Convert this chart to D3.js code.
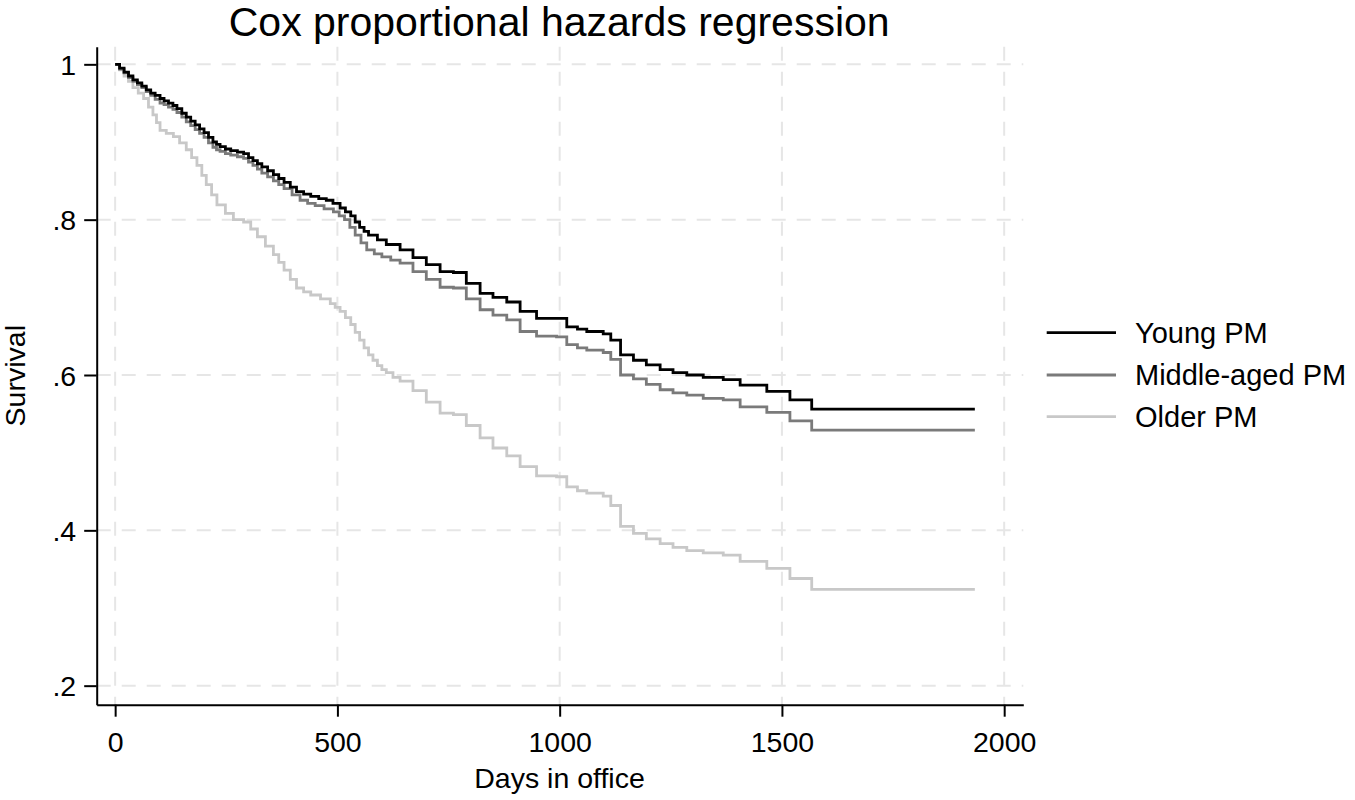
<!DOCTYPE html>
<html>
<head>
<meta charset="utf-8">
<script src="https://cdn.jsdelivr.net/npm/d3@7"></script>
<style>
  html, body { margin: 0; padding: 0; background: #fff; }
  svg { display: block; font-family: "Liberation Sans", Arial, sans-serif; }
</style>
</head>
<body>
<svg id="chart" width="1355" height="800"></svg>
<script>
// ---- data ----
const seriesNames = ["Young PM", "Middle-aged PM", "Older PM"];

const youngDays = [0,10,20,30,40,50,60,70,80,90,101,110,120,130,139,150,160,170,180,190,200,210,220,228,236,248,260,275,289,300,310,320,330,343,356,368,380,394,408,424,440,458,475,490,506,518,530,540,550,560,570,590,610,641,670,700,731,761,790,821,850,881,911,948,993,1016,1040,1061,1098,1115,1137,1166,1195,1226,1255,1286,1323,1368,1406,1466,1518,1567,1934];
const youngSurv = [1.000,0.995,0.990,0.985,0.980,0.976,0.972,0.967,0.963,0.960,0.956,0.953,0.950,0.947,0.943,0.937,0.932,0.927,0.922,0.917,0.912,0.906,0.900,0.897,0.894,0.891,0.889,0.887,0.885,0.880,0.876,0.872,0.868,0.863,0.858,0.853,0.848,0.842,0.836,0.833,0.830,0.827,0.825,0.821,0.815,0.810,0.805,0.797,0.790,0.785,0.780,0.774,0.768,0.761,0.751,0.742,0.733,0.732,0.718,0.705,0.700,0.694,0.682,0.673,0.673,0.662,0.659,0.656,0.653,0.645,0.626,0.619,0.613,0.607,0.603,0.600,0.597,0.594,0.587,0.579,0.568,0.556,0.556];

const middleDays = [0,10,20,30,40,50,60,70,80,90,101,110,120,130,139,150,160,170,180,190,200,210,220,228,236,248,260,275,289,300,310,320,330,343,356,368,380,398,416,433,450,470,491,504,516,528,540,553,566,583,600,620,641,670,700,731,761,790,821,850,881,911,948,993,1016,1040,1061,1098,1115,1137,1166,1195,1226,1255,1286,1323,1368,1406,1466,1518,1567,1934];
const middleSurv = [1.000,0.994,0.989,0.983,0.978,0.974,0.970,0.965,0.960,0.955,0.950,0.948,0.945,0.942,0.938,0.932,0.926,0.921,0.916,0.911,0.906,0.899,0.893,0.890,0.888,0.885,0.883,0.881,0.879,0.874,0.870,0.865,0.860,0.855,0.850,0.845,0.840,0.832,0.825,0.821,0.818,0.814,0.810,0.805,0.800,0.790,0.780,0.770,0.761,0.756,0.752,0.748,0.744,0.733,0.723,0.713,0.712,0.698,0.684,0.677,0.671,0.656,0.650,0.649,0.639,0.635,0.632,0.629,0.620,0.600,0.595,0.588,0.581,0.577,0.574,0.570,0.568,0.559,0.552,0.541,0.529,0.529];

const olderDays = [0,10,20,30,40,52,64,75,85,93,101,115,131,145,160,172,184,195,205,217,229,248,266,289,305,320,338,356,368,380,394,408,424,440,462,484,495,506,518,530,540,550,560,570,580,590,600,610,625,641,670,700,731,761,790,821,850,881,911,948,993,1016,1040,1061,1098,1115,1137,1166,1195,1226,1255,1286,1323,1368,1406,1466,1518,1567,1934];
const olderSurv = [1.000,0.993,0.985,0.978,0.970,0.963,0.956,0.945,0.935,0.925,0.915,0.911,0.907,0.899,0.890,0.880,0.870,0.857,0.845,0.832,0.819,0.808,0.800,0.797,0.788,0.778,0.766,0.755,0.745,0.735,0.723,0.712,0.707,0.703,0.698,0.692,0.687,0.682,0.674,0.665,0.655,0.645,0.635,0.626,0.619,0.612,0.607,0.603,0.597,0.592,0.580,0.565,0.551,0.549,0.535,0.519,0.506,0.496,0.482,0.470,0.469,0.456,0.451,0.448,0.444,0.432,0.405,0.396,0.389,0.383,0.378,0.374,0.371,0.368,0.360,0.351,0.338,0.324,0.324];

const xTicks = [0, 500, 1000, 1500, 2000];
const yTicks = [0.2, 0.4, 0.6, 0.8, 1.0];
const yTickLabels = [".2", ".4", ".6", ".8", "1"];

const titleText = "Cox proportional hazards regression";
const xLabel = "Days in office";
const yLabel = "Survival";

// ---- layout / style ----
const colors = ["#000000", "#7a7a7a", "#c8c8c8"];
const plot = { left: 96.7, right: 1023.3, top: 46.7, bottom: 704.7 };
const fontAxis = 28.5;
const fontFam = '"Liberation Sans", Arial, sans-serif';

const svg = d3.select("#chart");

const x = d3.scaleLinear().domain([-41.5, 2043]).range([plot.left, plot.right]);
const y = d3.scaleLinear().domain([0.1755, 1.0227]).range([plot.bottom, plot.top]);

// grid
const grid = svg.append("g").attr("class", "grid");
grid.selectAll("line.h").data(yTicks).enter().append("line")
  .attr("x1", plot.left).attr("x2", plot.right)
  .attr("y1", d => y(d)).attr("y2", d => y(d))
  .attr("stroke", "#e6e6e6").attr("stroke-width", 2)
  .attr("stroke-dasharray", "14,11");
grid.selectAll("line.v").data(xTicks).enter().append("line")
  .attr("x1", d => x(d)).attr("x2", d => x(d))
  .attr("y1", plot.top).attr("y2", plot.bottom)
  .attr("stroke", "#e6e6e6").attr("stroke-width", 2)
  .attr("stroke-dasharray", "14,11");

// lines
const series = [
  { name: seriesNames[0], days: youngDays, surv: youngSurv },
  { name: seriesNames[1], days: middleDays, surv: middleSurv },
  { name: seriesNames[2], days: olderDays, surv: olderSurv }
];
const line = d3.line().curve(d3.curveStepAfter).x(d => x(d[0])).y(d => y(d[1]));
[2, 1, 0].forEach(i => {
  const s = series[i];
  const pts = s.days.map((d, j) => [d, s.surv[j]]);
  svg.append("path").datum(pts)
    .attr("d", line)
    .attr("fill", "none")
    .attr("stroke", colors[i])
    .attr("stroke-width", 2.8)
    .attr("stroke-linejoin", "miter");
});

// axes
const xAxis = d3.axisBottom(x).tickValues(xTicks).tickSizeInner(12).tickSizeOuter(0).tickFormat(d3.format("d"));
const gx = svg.append("g").attr("transform", `translate(0,${plot.bottom})`).call(xAxis);
gx.select(".domain").attr("stroke", "#000").attr("stroke-width", 2);
gx.selectAll(".tick line").attr("stroke", "#000").attr("stroke-width", 2);
gx.selectAll(".tick text").attr("y", 47.6).attr("dy", 0)
  .attr("fill", "#000").style("font-size", fontAxis + "px").style("font-family", fontFam);

const yAxis = d3.axisLeft(y).tickValues(yTicks).tickSizeInner(12.5).tickSizeOuter(0)
  .tickFormat((d, i) => yTickLabels[i]);
const gy = svg.append("g").attr("transform", `translate(${plot.left},0)`).call(yAxis);
gy.select(".domain").attr("stroke", "#000").attr("stroke-width", 2);
gy.selectAll(".tick line").attr("stroke", "#000").attr("stroke-width", 2);
gy.selectAll(".tick text").attr("x", -20.5).attr("dy", "0.36em")
  .attr("fill", "#000").style("font-size", fontAxis + "px").style("font-family", fontFam);

// title
svg.append("text").attr("x", 559.2).attr("y", 36).attr("text-anchor", "middle")
  .style("font-size", "41px").attr("fill", "#000").text(titleText);

// axis labels
svg.append("text").attr("x", 559.5).attr("y", 788.3).attr("text-anchor", "middle")
  .style("font-size", fontAxis + "px").attr("fill", "#000").text(xLabel);
svg.append("text").attr("transform", `translate(25,${(plot.top + plot.bottom) / 2}) rotate(-90)`)
  .attr("text-anchor", "middle")
  .style("font-size", fontAxis + "px").attr("fill", "#000").text(yLabel);

// legend
const legendY = [332.7, 375, 416.7];
const leg = svg.append("g").attr("class", "legend");
seriesNames.forEach((n, i) => {
  leg.append("line").attr("x1", 1046.7).attr("x2", 1116)
    .attr("y1", legendY[i]).attr("y2", legendY[i])
    .attr("stroke", colors[i]).attr("stroke-width", 2.8);
  leg.append("text").attr("x", 1135).attr("y", legendY[i]).attr("dy", "0.36em")
    .style("font-size", "29px").attr("fill", "#000").text(n);
});
</script>
</body>
</html>
